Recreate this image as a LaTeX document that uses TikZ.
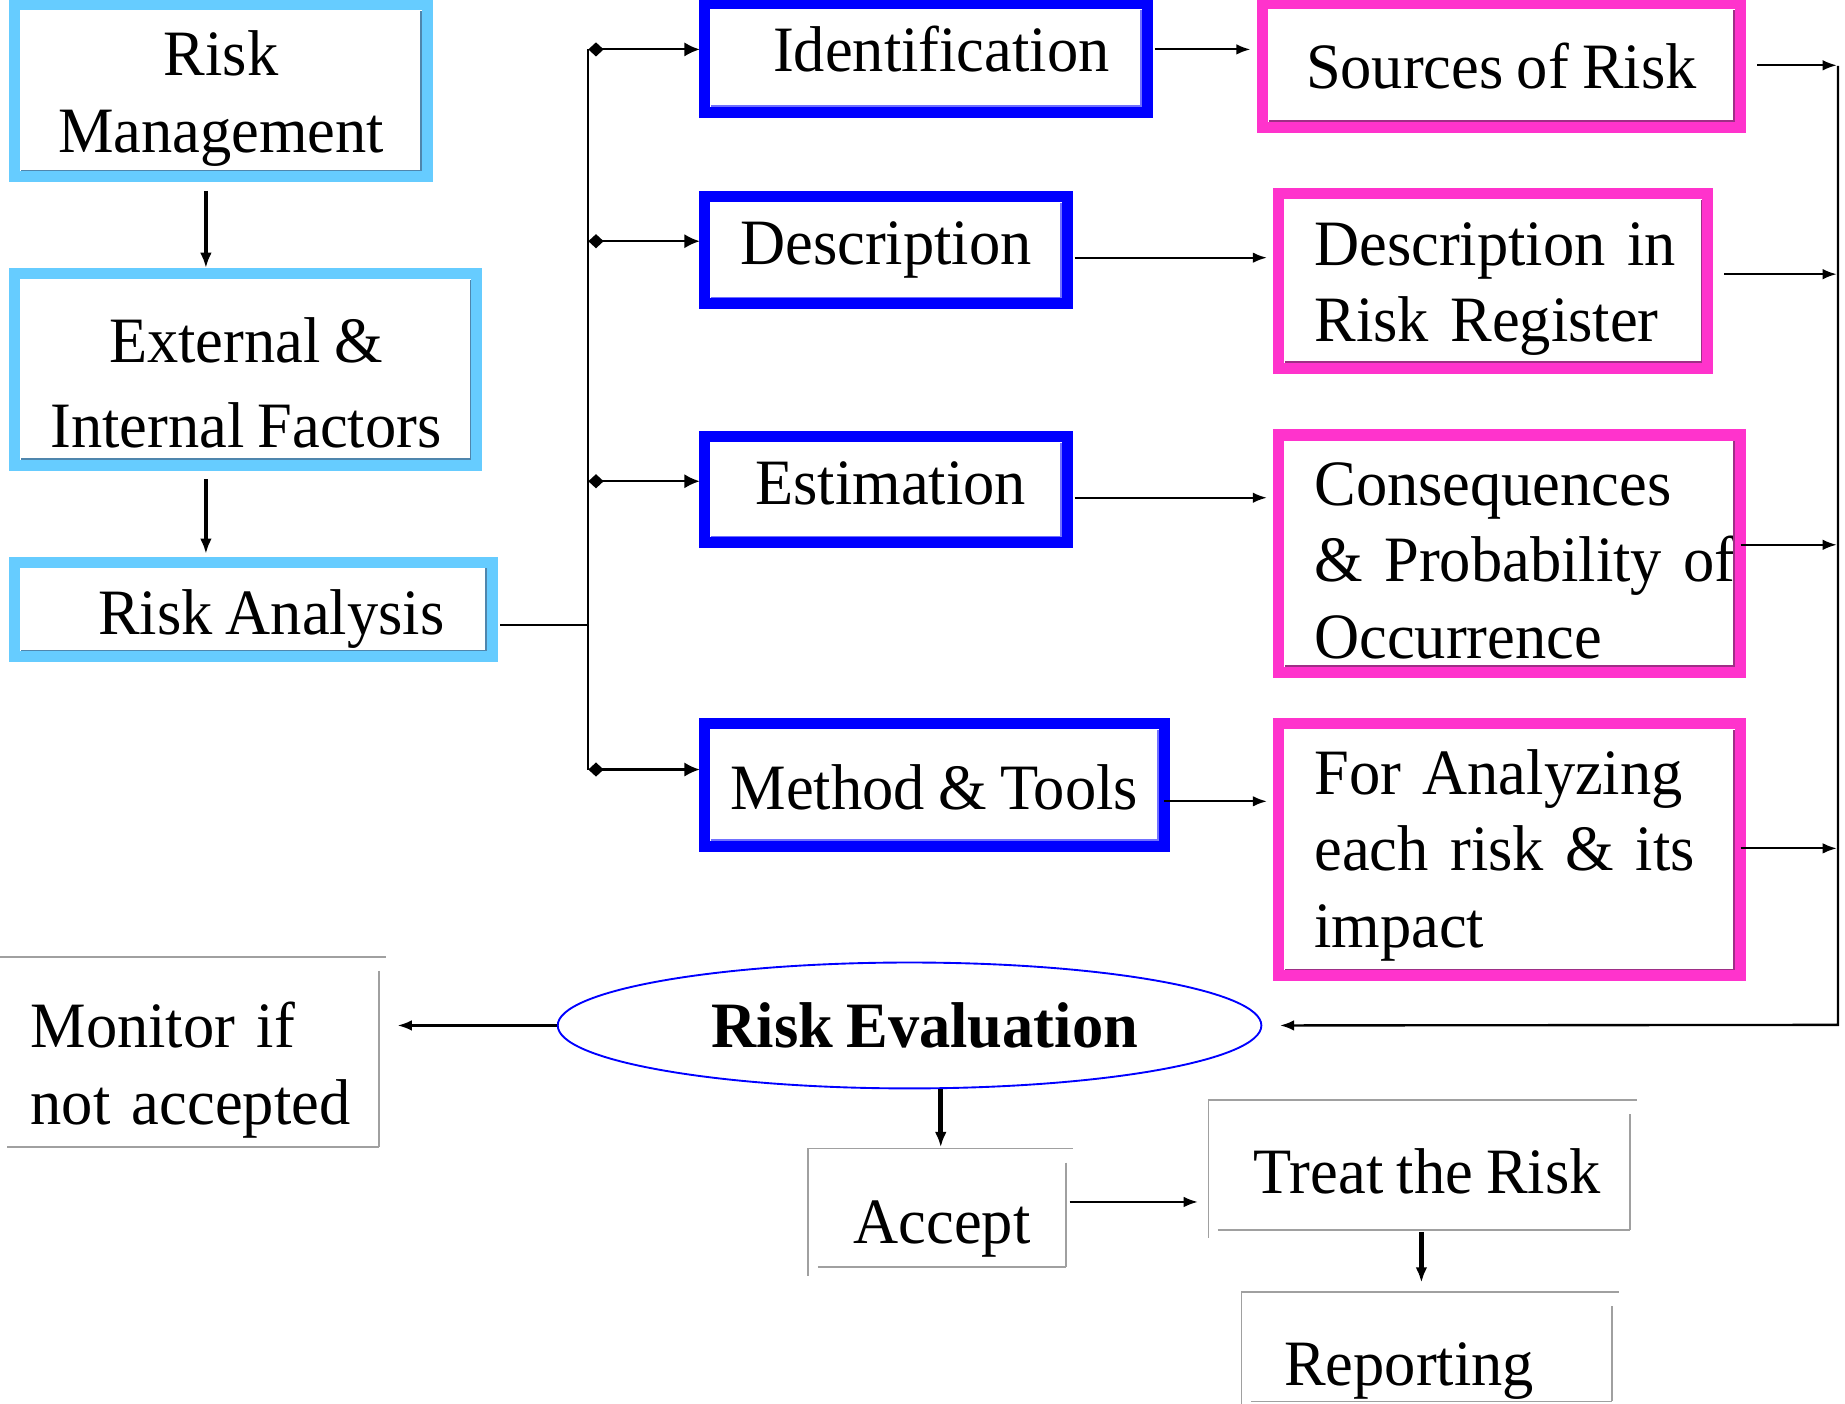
\documentclass[tikz,border=0pt]{standalone}
\usepackage{fontspec}
\setmainfont[FakeStretch=0.965,WordSpace=0.85]{Liberation Serif}
\usetikzlibrary{arrows.meta,shapes.geometric,calc}
\definecolor{lb}{HTML}{66CCFF}
\definecolor{lbd}{HTML}{4F86AD}
\definecolor{bb}{HTML}{0000FF}
\definecolor{bbd}{HTML}{7070FF}
\definecolor{pk}{HTML}{FF33CC}
\definecolor{pkd}{HTML}{9E2F86}
\definecolor{gy}{HTML}{A0A0A0}
\newcommand\bevline[2]{%
  \draw[#2,line width=1.4pt] ([shift={(5.4pt,5.4pt)}]#1.south west) -- ([shift={(-5.4pt,5.4pt)}]#1.south east) -- ([shift={(-5.4pt,-5.4pt)}]#1.north east);}
\newcommand\grayframe[1]{%
  \draw[gy,line width=1.5pt] (#1.north west) -- ([xshift=6pt]#1.north east);
  \draw[gy,line width=1.5pt] (#1.north west) -- ([yshift=-7pt]#1.south west);
  \draw[gy,line width=1.5pt] ([yshift=-12pt]#1.north east) -- (#1.south east);
  \draw[gy,line width=1.5pt] ([xshift=8pt]#1.south west) -- (#1.south east);}
% shifted text blocks: #1 = vertical shift, #2 = lines
\newcommand\shc[2]{\raisebox{#1}[\height][\depth]{\begin{tabular}{@{}c@{}}#2\end{tabular}}}
\newcommand\shl[2]{\raisebox{#1}[\height][\depth]{\begin{tabular}{@{}l@{}}#2\end{tabular}}}
\tikzset{
  txt/.style={font=\fontsize{55}{65}\selectfont},
  fbox/.style={rectangle, outer sep=0pt, inner sep=0pt, line width=9.4pt, fill=white, txt},
  lbbox/.style={fbox, draw=lb, align=center},
  bbbox/.style={fbox, draw=bb, align=center},
  pkbox/.style={fbox, draw=pk, align=left},
  grbox/.style={rectangle, outer sep=0pt, inner sep=0pt, align=left, txt},
  sz/.style 2 args={minimum width=#1pt-9.4pt, minimum height=#2pt-9.4pt},
  gsz/.style 2 args={minimum width=#1pt, minimum height=#2pt},
  conn/.style={line width=1.8pt},
  arr/.style={conn, -{Latex[length=12pt,width=9pt]}},
  barr/.style={conn, {Diamond[length=13pt,width=12pt]}-{Latex[length=13pt,width=12pt]}},
  tarr/.style={line width=4pt, -{Latex[length=13pt,width=10pt]}},
}
\begin{document}
\begin{tikzpicture}[x=1pt,y=-1pt]
\useasboundingbox[fill=white] (0,0) rectangle (1568,1193);

% left column
\node[lbbox, sz={360}{156}] (RM) at (188,77) {\shc{-7pt}{Risk\\Management}};
\node[lbbox, sz={402}{172}] (EI) at (209,314) {\shc{-17pt}{External \&\\[7pt]Internal Factors}};
\node[lbbox, sz={415}{90}] (RA) at (215.5,518) {\shc{-8pt}{\hspace*{30pt}Risk Analysis}};
\bevline{RM}{lbd}\bevline{EI}{lbd}\bevline{RA}{lbd}

% blue column
\node[bbbox, sz={386}{102}] (Id) at (787,49) {\shc{1pt}{\hspace*{26pt}Identification}};
\node[bbbox, sz={318}{101}] (De) at (753,212.5) {Description};
\node[bbbox, sz={318}{100}] (Es) at (753,416) {\shc{0pt}{\hspace*{8pt}Estimation}};
\node[bbbox, sz={400}{114}] (MT) at (794,667) {\shc{-8pt}{Method \& Tools}};
\bevline{Id}{bbd}\bevline{De}{bbd}\bevline{Es}{bbd}\bevline{MT}{bbd}

% pink column
\node[pkbox, sz={416}{115}, align=center] (Src) at (1276,55.5) {\shc{-7pt}{Sources of Risk}};
\node[pkbox, sz={374}{158}, text width=304pt] (DRR) at (1269,239) {\shl{-6pt}{Description in\\Risk Register}};
\node[pkbox, sz={402}{211}, text width=332pt] (Con) at (1283,470.5) {\shl{-11pt}{Consequences\\\& Probability of\\Occurrence}};
\node[pkbox, sz={402}{224}, text width=332pt] (FA) at (1283,722) {\shl{-5pt}{For Analyzing\\each risk \& its\\impact}};
\bevline{Src}{pkd}\bevline{DRR}{pkd}\bevline{Con}{pkd}\bevline{FA}{pkd}

% evaluation
\node[ellipse, draw=bb, line width=1.6pt, minimum width=598pt, minimum height=107pt, inner sep=0pt, font=\fontsize{55}{65}\selectfont\bfseries] (RE) at (773,871.5) {\shc{-6pt}{\hspace*{26pt}Risk Evaluation}};

% gray boxes
\node[grbox, gsz={324}{162}, text width=268pt] (Mon) at (160,894) {\shl{-16pt}{Monitor if\\not accepted}};
\node[grbox, gsz={219}{101}, align=center] (Acc) at (796.5,1026.5) {\shc{-17pt}{\hspace*{8pt}Accept}};
\node[grbox, gsz={358}{110}, align=center] (Tr) at (1206,990) {\shc{-11pt}{\hspace*{14pt}Treat the Risk}};
\node[grbox, gsz={315}{93}, align=center] (Rep) at (1212.5,1144.5) {\shc{-20pt}{Reporting\hspace*{30pt}}};
\grayframe{Mon}\grayframe{Acc}\grayframe{Tr}\grayframe{Rep}

% coordinates
\coordinate (bx) at (500,0);
\coordinate (j1) at (500,42);
\coordinate (j2) at (500,205);
\coordinate (j3) at (500,409);
\coordinate (j4) at (500,654);
\coordinate (r1) at (1562,56);
\coordinate (r5) at (1562,871);

% left vertical arrows
\draw[tarr, shorten <=12pt, shorten >=5pt] ([xshift=-13pt]RM.south) -- ([xshift=-13pt]RM.south |- EI.north);
\draw[tarr, shorten <=12pt, shorten >=7pt] ([xshift=-34pt]EI.south) -- ([xshift=-34pt]EI.south |- RA.north);

% bus
\draw[conn, shorten <=7pt] ([yshift=-13pt]RA.east) -- ([yshift=-13pt]RA.east -| bx);
\draw[conn] (j1) -- (j4);
\draw[barr, shorten >=4pt] (j1) -- (j1 -| Id.west);
\draw[barr, shorten >=4pt] (j2) -- (j2 -| De.west);
\draw[barr, shorten >=4pt] (j3) -- (j3 -| Es.west);
\draw[barr, shorten >=4pt] (j4) -- (j4 -| MT.west);

% blue to pink
\draw[arr, shorten <=6pt, shorten >=10pt] ([yshift=7pt]Id.east) -- ([yshift=7pt]Id.east -| Src.west);
\draw[arr, shorten <=6pt, shorten >=10pt] ([yshift=-6.5pt]De.east) -- ([yshift=-6.5pt]De.east -| DRR.west);
\draw[arr, shorten <=6pt, shorten >=10pt] ([yshift=-7pt]Es.east) -- ([yshift=-7pt]Es.east -| Con.west);
\draw[arr, shorten >=10pt] ([yshift=-14pt]MT.east) -- ([yshift=-14pt]MT.east -| FA.west);

% pink to right bus
\draw[arr, shorten <=14pt, shorten >=1pt] (Src.east) -- (Src.east -| r1);
\draw[arr, shorten <=14pt, shorten >=1pt] ([yshift=6pt]DRR.east) -- ([yshift=6pt]DRR.east -| r1);
\draw[arr, shorten >=1pt] ([yshift=7.5pt]Con.east) -- ([yshift=7.5pt]Con.east -| r1);
\draw[arr, shorten >=1pt] ([yshift=1pt]FA.east) -- ([yshift=1pt]FA.east -| r1);
\draw[arr, line width=2pt, shorten >=15pt] (r1) -- (r5) -- (RE.east);

% evaluation outputs
\draw[arr, shorten >=16pt] (RE.west) -- (RE.west -| Mon.east);
\draw[tarr, shorten >=1pt] ([xshift=3pt]Acc.north |- RE.south) -- ([xshift=3pt]Acc.north);
\draw[arr, shorten <=3pt, shorten >=9pt] ([yshift=5pt]Acc.east) -- ([yshift=5pt]Acc.east -| Tr.west);
\draw[tarr, shorten <=2pt, shorten >=8pt] ([xshift=2pt]Tr.south) -- ([xshift=2pt]Tr.south |- Rep.north);
\end{tikzpicture}
\end{document}
